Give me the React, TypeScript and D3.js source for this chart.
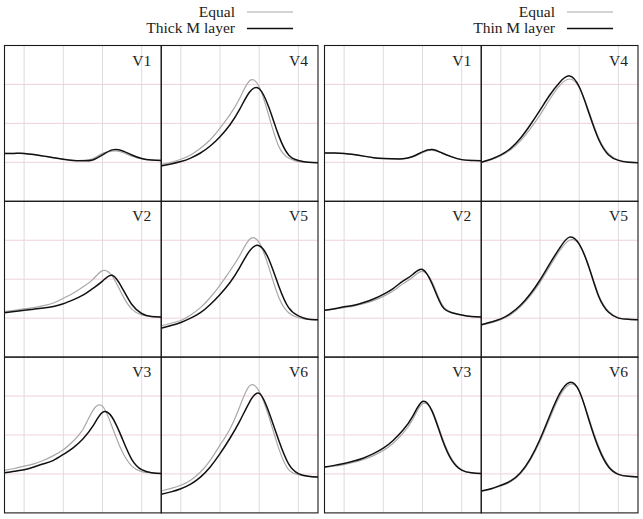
import React from 'react';
import * as d3 from 'd3';

// sample positions shared by every trace (time, arbitrary units)
const xs = [0, 0.5, 1, 1.5, 2, 2.5, 3, 3.5, 4, 4.5, 5, 5.5, 6, 6.5, 7, 7.5, 8];

const leads = ['V1', 'V2', 'V3', 'V4', 'V5', 'V6'];
const xTicks = [1, 3, 5, 7];
const yTicks = [0, 1, 2];

// left figure: Equal vs Thick M layer
const thickEqual: number[][] = [
  [0.23, 0.23, 0.23, 0.2, 0.16, 0.12, 0.08, 0.05, 0.05, 0.09, 0.23, 0.29, 0.26, 0.16, 0.09, 0.06, 0.05],
  [0.17, 0.2, 0.24, 0.27, 0.32, 0.39, 0.51, 0.64, 0.8, 0.99, 1.22, 1.08, 0.61, 0.23, 0.08, 0.04, 0.03],
  [0.09, 0.14, 0.2, 0.26, 0.35, 0.47, 0.62, 0.84, 1.14, 1.62, 1.74, 1.2, 0.58, 0.2, 0.06, 0.03, 0.01],
  [-0.05, 0.0, 0.08, 0.19, 0.36, 0.58, 0.88, 1.22, 1.64, 2.09, 1.94, 1.18, 0.41, 0.11, 0.02, 0.0, -0.01],
  [-0.2, -0.13, -0.06, 0.08, 0.27, 0.53, 0.85, 1.21, 1.6, 2.02, 1.94, 1.29, 0.53, 0.14, 0.01, -0.03, -0.04],
  [-0.44, -0.37, -0.29, -0.16, 0.05, 0.35, 0.74, 1.15, 1.72, 2.26, 2.12, 1.46, 0.65, 0.11, -0.02, -0.06, -0.08],
];
const thickLayer: number[][] = [
  [0.23, 0.23, 0.23, 0.2, 0.16, 0.12, 0.08, 0.05, 0.04, 0.06, 0.19, 0.32, 0.3, 0.19, 0.1, 0.06, 0.05],
  [0.14, 0.17, 0.2, 0.23, 0.26, 0.3, 0.37, 0.47, 0.59, 0.76, 0.95, 1.1, 0.78, 0.35, 0.12, 0.04, 0.03],
  [0.03, 0.07, 0.11, 0.18, 0.26, 0.35, 0.5, 0.67, 0.9, 1.22, 1.58, 1.45, 0.92, 0.37, 0.11, 0.03, 0.01],
  [-0.09, -0.04, 0.02, 0.11, 0.24, 0.42, 0.66, 0.96, 1.36, 1.8, 1.89, 1.4, 0.68, 0.19, 0.05, 0.0, -0.01],
  [-0.26, -0.19, -0.11, 0.0, 0.14, 0.35, 0.61, 0.91, 1.3, 1.72, 1.86, 1.5, 0.82, 0.27, 0.06, -0.03, -0.04],
  [-0.52, -0.46, -0.38, -0.26, -0.08, 0.18, 0.52, 0.91, 1.35, 1.84, 2.07, 1.58, 0.86, 0.26, 0.01, -0.06, -0.08],
];

// right figure: Equal vs Thin M layer
const thinEqual: number[][] = [
  [0.24, 0.24, 0.23, 0.2, 0.16, 0.12, 0.1, 0.09, 0.09, 0.14, 0.25, 0.31, 0.24, 0.14, 0.07, 0.05, 0.04],
  [0.2, 0.23, 0.27, 0.31, 0.37, 0.45, 0.56, 0.7, 0.88, 1.05, 1.2, 0.92, 0.35, 0.15, 0.08, 0.04, 0.03],
  [0.17, 0.2, 0.24, 0.3, 0.37, 0.47, 0.6, 0.79, 1.04, 1.4, 1.8, 1.62, 0.95, 0.38, 0.11, 0.03, 0.01],
  [0.0, 0.07, 0.17, 0.32, 0.55, 0.86, 1.22, 1.62, 1.97, 2.14, 1.92, 1.3, 0.62, 0.22, 0.06, 0.01, -0.01],
  [-0.18, -0.12, -0.04, 0.09, 0.29, 0.57, 0.92, 1.33, 1.73, 2.0, 1.9, 1.32, 0.58, 0.17, 0.01, -0.03, -0.04],
  [-0.45, -0.39, -0.31, -0.2, 0.0, 0.35, 0.84, 1.43, 1.99, 2.3, 2.13, 1.42, 0.7, 0.21, 0.0, -0.06, -0.08],
];
const thinLayer: number[][] = [
  [0.24, 0.24, 0.23, 0.2, 0.16, 0.12, 0.1, 0.09, 0.09, 0.15, 0.27, 0.33, 0.24, 0.14, 0.07, 0.05, 0.04],
  [0.2, 0.24, 0.29, 0.33, 0.4, 0.49, 0.61, 0.76, 0.95, 1.12, 1.25, 0.87, 0.31, 0.14, 0.08, 0.04, 0.03],
  [0.18, 0.22, 0.27, 0.33, 0.41, 0.52, 0.66, 0.86, 1.12, 1.48, 1.86, 1.6, 0.9, 0.35, 0.1, 0.03, 0.01],
  [0.0, 0.08, 0.19, 0.36, 0.62, 0.96, 1.34, 1.73, 2.05, 2.22, 1.94, 1.26, 0.58, 0.19, 0.05, 0.0, -0.01],
  [-0.17, -0.1, -0.02, 0.12, 0.33, 0.62, 0.98, 1.4, 1.8, 2.08, 1.9, 1.3, 0.55, 0.15, 0.0, -0.03, -0.04],
  [-0.44, -0.38, -0.29, -0.18, 0.03, 0.39, 0.89, 1.5, 2.06, 2.35, 2.13, 1.38, 0.65, 0.18, -0.01, -0.06, -0.08],
];

const figures = [
  { left: 4.5, label: 'Thick M layer', equal: thickEqual, layer: thickLayer },
  { left: 324.5, label: 'Thin M layer', equal: thinEqual, layer: thinLayer },
];

const W = 643;
const H = 519;
const top = 45.5;
const panelW = 156.75;
const panelH = 155.8;
const font = '"Liberation Serif", "Times New Roman", serif';

const Panel = ({ x0, y0, name, equal, layer, id }: any) => {
  const x = d3.scaleLinear().domain([0, 8]).range([x0, x0 + panelW]);
  const y = d3.scaleLinear().domain([-1, 3]).range([y0 + panelH, y0]);
  const line = d3.line<number>()
    .x((_, i) => x(xs[i]))
    .y(d => y(d))
    .curve(d3.curveNatural);
  return (
    <g>
      <clipPath id={id}>
        <rect x={x0} y={y0} width={panelW} height={panelH} />
      </clipPath>
      {xTicks.map(t => (
        <line key={'vx' + t} x1={x(t)} x2={x(t)} y1={y0} y2={y0 + panelH} stroke="#e2d9e2" strokeWidth={1} />
      ))}
      {yTicks.map(t => (
        <line key={'hy' + t} x1={x0} x2={x0 + panelW} y1={y(t)} y2={y(t)} stroke="#efd2dc" strokeWidth={1} />
      ))}
      <g clipPath={`url(#${id})`}>
        <path d={line(equal) || ''} fill="none" stroke="#a8a8a8" strokeWidth={1.2} />
        <path d={line(layer) || ''} fill="none" stroke="#111" strokeWidth={1.5} />
      </g>
      <text x={x0 + panelW - 10} y={y0 + 20} textAnchor="end" fontFamily={font} fontSize={15.5} fill="#222">
        {name}
      </text>
    </g>
  );
};

export default function App() {
  return (
    <svg width={W} height={H} style={{ position: 'absolute', left: 0, top: 0, background: '#fff' }}>
      {figures.map((f, fi) => {
        const right = f.left + 2 * panelW;
        return (
          <g key={fi}>
            {/* legend */}
            <text x={right - 83} y={17} textAnchor="end" fontFamily={font} fontSize={15.5} fill="#222">Equal</text>
            <line x1={right - 71} x2={right - 25} y1={12} y2={12} stroke="#a8a8a8" strokeWidth={1.2} />
            <text x={right - 83} y={33} textAnchor="end" fontFamily={font} fontSize={15.5} fill="#222">{f.label}</text>
            <line x1={right - 71} x2={right - 25} y1={28.5} y2={28.5} stroke="#111" strokeWidth={1.5} />
            {leads.map((name, li) => {
              const col = li < 3 ? 0 : 1;
              const row = li % 3;
              return (
                <Panel
                  key={name}
                  id={`clip-${fi}-${li}`}
                  x0={f.left + col * panelW}
                  y0={top + row * panelH}
                  name={name}
                  equal={f.equal[li]}
                  layer={f.layer[li]}
                />
              );
            })}
            {/* panel frames */}
            {leads.map((name, li) => {
              const col = li < 3 ? 0 : 1;
              const row = li % 3;
              return (
                <rect key={'f' + name} x={f.left + col * panelW} y={top + row * panelH}
                  width={panelW} height={panelH} fill="none" stroke="#1a1a1a" strokeWidth={1.1} />
              );
            })}
          </g>
        );
      })}
    </svg>
  );
}
